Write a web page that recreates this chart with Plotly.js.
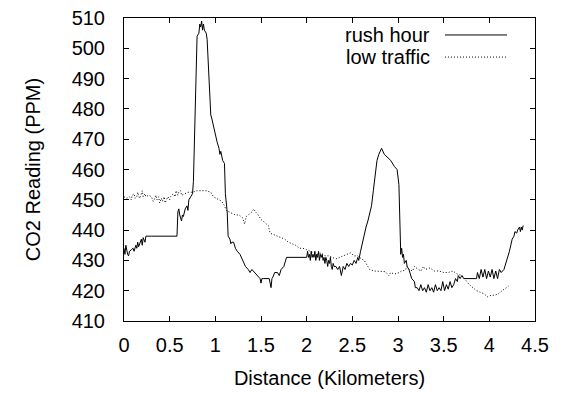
<!DOCTYPE html>
<html>
<head>
<meta charset="utf-8">
<script src="https://cdn.plot.ly/plotly-3.0.1.min.js"></script>
<style>html,body{margin:0;padding:0;background:#fff;}#chart{width:562px;height:397px;}</style>
</head>
<body>
<div id="chart"></div>
<script>
// Rush hour series: [distance km, CO2 ppm]
const rushHour = [
  [0.00,434],[0.01,432],[0.02,435],[0.03,433],[0.04,432],[0.05,431.5],[0.06,433],[0.08,433.5],[0.10,434],[0.11,433],
  [0.13,435],[0.14,434],[0.15,436],[0.16,434.5],[0.18,436],[0.19,437],[0.20,435],[0.21,437.5],[0.23,436],[0.24,438],
  [0.30,438],[0.40,438],[0.50,438],[0.58,438],[0.59,446],[0.60,447],[0.61,445],[0.62,444],[0.63,443],[0.64,445],
  [0.65,444.5],[0.67,447],[0.69,448],[0.70,446.5],[0.71,450],[0.73,451],[0.75,452],[0.76,456],[0.77,470],[0.78,485],
  [0.79,490],[0.80,504],[0.82,505],[0.83,508],[0.84,507],[0.85,509],[0.86,506],[0.87,508],[0.88,506],[0.90,505],
  [0.91,503],[0.92,496],[0.94,480],[0.95,478],[0.96,477],[0.98,474],[1.00,471],[1.02,469],[1.04,467],[1.05,465],
  [1.06,466],[1.08,463],[1.10,462],[1.11,452],[1.13,446],[1.14,438],[1.16,437],[1.17,435.5],[1.18,436],[1.20,436],
  [1.22,434],[1.24,433],[1.27,432],[1.30,430],[1.33,428],[1.36,427],[1.38,426],[1.40,427],[1.43,426],[1.46,425],
  [1.49,424],[1.50,422.5],[1.51,424],[1.53,424],[1.56,424],[1.59,424],[1.61,421],[1.62,424],[1.63,424.5],[1.65,426],
  [1.68,426],[1.70,425],[1.72,427],[1.75,428],[1.78,431],[1.82,431],[1.90,431],[1.95,431],
  [2.00,431],[2.01,433],[2.02,431],[2.03,432],[2.04,430],[2.05,433],[2.06,431],[2.07,432],[2.08,431],[2.09,433],
  [2.10,430],[2.11,432],[2.12,431],[2.13,433],[2.14,430],[2.15,432],[2.16,431],[2.17,432],[2.18,430],[2.19,431],
  [2.20,429],[2.21,431],[2.22,430],[2.23,428],[2.24,430],[2.25,429],[2.26,431],[2.27,428],[2.28,427],[2.29,429],
  [2.30,428],[2.32,428],[2.34,427],[2.36,428],[2.38,425],[2.40,428],[2.42,427],[2.44,429],[2.46,428],[2.48,429],
  [2.50,428.5],[2.52,430],[2.54,429],[2.56,431],[2.57,430],[2.59,433],[2.61,436],[2.63,438],[2.65,441],[2.67,443],
  [2.69,446],[2.71,448],[2.73,453],[2.75,458],[2.77,463],[2.79,465],[2.82,467],[2.85,465],[2.88,464],[2.92,463],
  [2.96,461],[2.99,460],[3.01,455],[3.02,445],[3.03,432],[3.04,434],[3.05,431],[3.06,432],[3.07,429],[3.09,430],
  [3.10,428],[3.12,427],[3.13,426],[3.15,424],[3.18,423],[3.19,421],[3.21,421],[3.23,420],[3.25,422],[3.27,420],
  [3.29,421],[3.31,419.5],[3.33,422],[3.35,420],[3.37,421],[3.39,419.5],[3.41,422],[3.43,420],[3.45,421],[3.47,420],
  [3.49,423],[3.51,420],[3.53,422],[3.55,420.5],[3.57,423],[3.59,421],[3.61,422],[3.63,424],[3.65,423],[3.66,425],
  [3.68,424],[3.70,425],[3.72,424],[3.75,424],[3.80,424],[3.85,424],[3.86,424],[3.87,426],[3.89,424],[3.91,427],
  [3.93,424.5],[3.95,427],[3.97,424],[3.99,426.5],[4.01,424.5],[4.03,427],[4.05,424],[4.07,426.5],[4.09,424],[4.11,427],
  [4.13,426],[4.16,427],[4.19,430],[4.22,433],[4.25,437],[4.27,438],[4.28,439.5],[4.30,439],[4.31,440],[4.33,441],
  [4.34,439.5],[4.35,441],[4.36,440],[4.37,441.5]
];

// Low traffic series: [distance km, CO2 ppm]
const lowTraffic = [
  [0.00,451],[0.03,450.5],[0.06,451],[0.08,450],[0.09,451.5],[0.11,452],[0.12,450.5],[0.14,451],[0.15,452.5],[0.17,450.5],
  [0.18,451],[0.20,453],[0.21,451],[0.23,452],[0.24,451],[0.27,451.5],[0.30,451],[0.32,449.5],[0.33,450],[0.35,451.5],
  [0.36,450],[0.38,451],[0.39,449],[0.41,450.5],[0.42,449.5],[0.44,451],[0.45,449],[0.48,451],[0.50,450],[0.51,451],
  [0.54,452],[0.56,451],[0.57,453],[0.59,451.5],[0.60,452.5],[0.62,453],[0.63,451.5],[0.66,452],[0.70,452.5],[0.75,452.5],
  [0.80,453],[0.85,453],[0.90,453],[0.95,452.5],[0.98,451],[1.01,450.5],[1.04,450],[1.07,449.5],[1.10,448],[1.12,446.5],
  [1.15,446],[1.18,445.5],[1.22,445],[1.26,445],[1.30,444],[1.32,442],[1.33,443],[1.34,444.5],[1.36,445],[1.40,446],
  [1.42,447],[1.44,446],[1.47,445],[1.50,443.5],[1.54,442.5],[1.58,441.5],[1.60,439],[1.64,438.5],[1.68,438],[1.72,437.5],
  [1.76,437],[1.80,436],[1.84,435.5],[1.88,435],[1.92,434],[1.96,434],[2.00,433.5],[2.04,433],[2.08,432.5],[2.12,432],
  [2.16,432.5],[2.20,431.5],[2.24,431.5],[2.28,431],[2.32,430.5],[2.36,431],[2.40,431.5],[2.44,432],[2.48,432.5],[2.52,431.5],
  [2.56,431.5],[2.60,430.5],[2.63,430],[2.66,428.5],[2.69,427],[2.74,426.5],[2.80,426.3],[2.86,426.3],[2.90,425],[2.92,426],
  [2.96,425.5],[3.00,425.8],[3.04,426.5],[3.08,426.8],[3.10,428],[3.12,427],[3.16,426.5],[3.18,428],[3.20,427.5],[3.25,426.5],
  [3.28,428],[3.30,427],[3.35,427.5],[3.40,426.5],[3.45,426.5],[3.50,426],[3.55,426],[3.60,426.5],[3.65,425.5],[3.70,425],
  [3.74,423.5],[3.78,422],[3.82,421],[3.86,420],[3.90,419.5],[3.94,419],[3.98,418],[4.02,418.5],[4.06,418.5],[4.10,419],
  [4.14,420],[4.18,421],[4.21,421.5]
];

const seriesNames = ["rush hour", "low traffic"];
const xTicks = [0,0.5,1,1.5,2,2.5,3,3.5,4,4.5];
const yTicks = [410,420,430,440,450,460,470,480,490,500,510];

const FONT = "Liberation Sans, Arial, Helvetica, sans-serif";

const traces = [
  {x: rushHour.map(p => p[0]), y: rushHour.map(p => p[1]), type: "scatter", mode: "lines",
   name: seriesNames[0], line: {color: "#000", width: 1}, showlegend: false},
  {x: lowTraffic.map(p => p[0]), y: lowTraffic.map(p => p[1]), type: "scatter", mode: "lines",
   name: seriesNames[1], line: {color: "#000", width: 1, dash: "1px,2px"}, showlegend: false}
];

const layout = {
  width: 562, height: 397,
  margin: {l: 124, r: 27, t: 18, b: 76, pad: 0},
  paper_bgcolor: "#fff", plot_bgcolor: "#fff",
  font: {family: FONT, size: 20, color: "#000"},
  xaxis: {
    range: [0, 4.5], tickmode: "array", tickvals: xTicks, ticktext: xTicks.map(String),
    ticks: "inside", ticklen: 5, tickwidth: 1, tickcolor: "#000",
    showline: true, linecolor: "#000", linewidth: 1, mirror: "ticks",
    showgrid: false, zeroline: false, ticklabelstandoff: 6,
    tickfont: {family: FONT, size: 20},
    title: {text: "Distance (Kilometers)", font: {family: FONT, size: 20}, standoff: 15}
  },
  yaxis: {
    range: [410, 510], tickmode: "array", tickvals: yTicks, ticktext: yTicks.map(String),
    ticks: "inside", ticklen: 5, tickwidth: 1, tickcolor: "#000",
    showline: true, linecolor: "#000", linewidth: 1, mirror: "ticks",
    showgrid: false, zeroline: false, ticklabelstandoff: 14,
    tickfont: {family: FONT, size: 20},
    title: {text: "CO2 Reading (PPM)", font: {family: FONT, size: 20}, standoff: 25}
  },
  annotations: [
    {xref: "paper", yref: "paper", x: 0.749, y: 0.944, xanchor: "right", yanchor: "middle",
     text: seriesNames[0], showarrow: false, font: {family: FONT, size: 20}},
    {xref: "paper", yref: "paper", x: 0.749, y: 0.871, xanchor: "right", yanchor: "middle",
     text: seriesNames[1], showarrow: false, font: {family: FONT, size: 20}}
  ],
  shapes: [
    {type: "line", xref: "paper", yref: "paper", x0: 0.781, x1: 0.932, y0: 0.944, y1: 0.944,
     line: {color: "#000", width: 1}},
    {type: "line", xref: "paper", yref: "paper", x0: 0.781, x1: 0.932, y0: 0.871, y1: 0.871,
     line: {color: "#000", width: 1, dash: "1px,2px"}}
  ]
};

Plotly.newPlot("chart", traces, layout, {displayModeBar: false, staticPlot: true});
</script>
</body>
</html>
